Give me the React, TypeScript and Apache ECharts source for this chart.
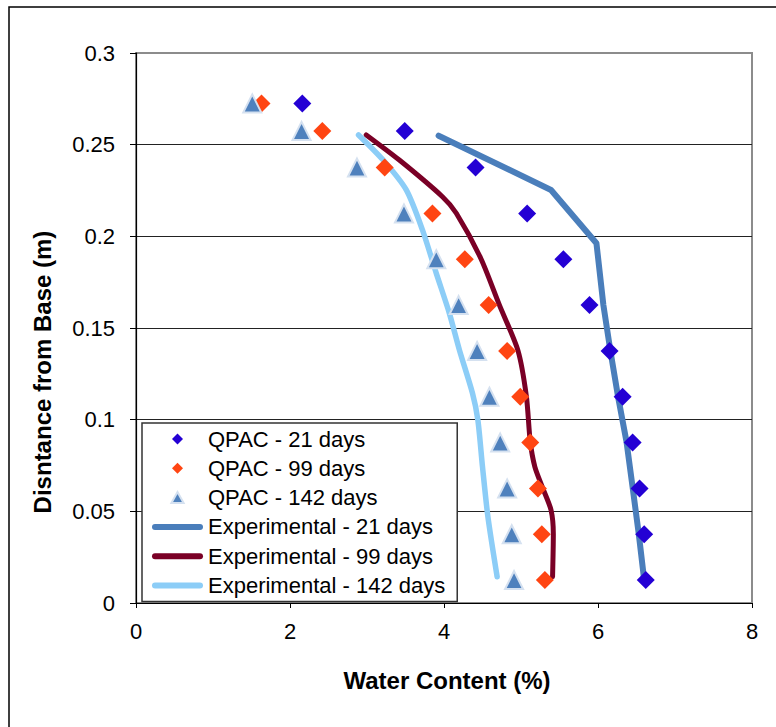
import React, { useEffect, useRef } from "react";
import * as echarts from "echarts";

// Depths (m) of the QPAC model points
const qpacDepths = [0.2725, 0.2575, 0.2375, 0.2125, 0.1875, 0.1625, 0.1375, 0.1125, 0.0875, 0.0625, 0.0375, 0.0125];
// QPAC water content (%) at each depth
const qpac21 = [2.16, 3.49, 4.41, 5.08, 5.55, 5.89, 6.15, 6.32, 6.45, 6.54, 6.6, 6.62];
const qpac99 = [1.63, 2.42, 3.23, 3.85, 4.27, 4.58, 4.82, 4.99, 5.12, 5.22, 5.27, 5.31];
const qpac142 = [1.51, 2.15, 2.87, 3.48, 3.9, 4.19, 4.43, 4.59, 4.73, 4.82, 4.88, 4.91];

// Experimental profiles: water content (%) and depth (m)
const exp21Water = [3.93, 5.39, 5.98, 6.07, 6.16, 6.26, 6.37, 6.45, 6.53, 6.6];
const exp21Depth = [0.2549, 0.2253, 0.1962, 0.1625, 0.1378, 0.1127, 0.088, 0.0629, 0.0375, 0.0125];
const exp99Water = [2.99, 3.42, 3.98, 4.16, 4.48, 4.72, 4.96, 5.07, 5.12, 5.18, 5.28, 5.39, 5.42, 5.41];
const exp99Depth = [0.2553, 0.2416, 0.2216, 0.2126, 0.1878, 0.1625, 0.1378, 0.1127, 0.088, 0.0743, 0.0629, 0.0507, 0.0375, 0.0143];
const exp142Water = [2.89, 3.21, 3.51, 3.72, 3.9, 4.07, 4.2, 4.37, 4.44, 4.5, 4.57, 4.69];
const exp142Depth = [0.2553, 0.2416, 0.2253, 0.2035, 0.1798, 0.158, 0.138, 0.1144, 0.0998, 0.0743, 0.0471, 0.0143];

const seriesNames = [
  "QPAC - 21 days",
  "QPAC - 99 days",
  "QPAC - 142 days",
  "Experimental - 21 days",
  "Experimental - 99 days",
  "Experimental - 142 days",
];

const xTitle = "Water Content (%)";
const yTitle = "Disntance from Base (m)";

const FONT = "'Liberation Sans', Arial, Helvetica, sans-serif";

// Legend glyphs (paths keep their aspect inside the legend item box)
const DIAMOND_ICON = "path://M0,-1L1,0L0,1L-1,0Z";
const TRIANGLE_ICON = "path://M0,-1L1,0.8L-1,0.8Z";
const LINE_ICON = "path://M3,0L48,0A3,3,0,0,1,48,6L3,6A3,3,0,0,1,3,0Z";

const pairs = (xs: number[], ys: number[]) => xs.map((x, i) => [x, ys[i]]);

export default function App() {
  const ref = useRef<HTMLDivElement>(null);

  useEffect(() => {
    if (!ref.current) return;
    const chart = echarts.init(ref.current, undefined, { renderer: "svg" });

    const scatter = (name: string, xs: number[], symbol: string, color: string, extra: any = {}) => ({
      name,
      type: "scatter",
      data: pairs(xs, qpacDepths),
      symbol,
      symbolSize: 18,
      itemStyle: { color, opacity: 1, ...extra },
      z: 4,
    });

    const line = (name: string, xs: number[], ys: number[], color: string, width: number, smooth: number | boolean) => ({
      name,
      type: "line",
      data: pairs(xs, ys),
      showSymbol: false,
      symbol: "none",
      smooth,
      lineStyle: { color, width, cap: "round", join: "round" },
      itemStyle: { color },
      z: 3,
    });

    chart.setOption({
      animation: false,
      backgroundColor: "#ffffff",
      textStyle: { fontFamily: FONT },
      grid: {
        left: 136,
        top: 53,
        width: 616,
        height: 550,
        show: true,
        borderColor: "#8c8c8c",
        borderWidth: 2,
        backgroundColor: "transparent",
        containLabel: false,
      },
      xAxis: {
        type: "value",
        min: 0,
        max: 8,
        interval: 2,
        axisLine: { show: true, onZero: false, lineStyle: { color: "#000", width: 1.2 } },
        axisTick: { show: true, inside: false, length: 5, lineStyle: { color: "#000" } },
        axisLabel: { fontSize: 22, color: "#000", margin: 17, fontFamily: FONT },
        splitLine: { show: false },
      },
      yAxis: {
        type: "value",
        min: 0,
        max: 0.3,
        interval: 0.05,
        axisLine: { show: true, onZero: false, lineStyle: { color: "#000", width: 1.2 } },
        axisTick: { show: true, inside: false, length: 6, lineStyle: { color: "#000" } },
        axisLabel: {
          fontSize: 22,
          color: "#000",
          margin: 21,
          fontFamily: FONT,
          formatter: (v: number) => String(+v.toFixed(2)),
        },
        splitLine: {
          show: true,
          lineStyle: {
            color: ["#000", "#222", "#222", "#222", "#222", "#222", "#8c8c8c"],
            width: 1.2,
          },
        },
      },
      legend: {
        orient: "vertical",
        left: 142,
        top: 423,
        data: [
          { name: seriesNames[0], icon: DIAMOND_ICON },
          { name: seriesNames[1], icon: DIAMOND_ICON },
          { name: seriesNames[2], icon: TRIANGLE_ICON },
          { name: seriesNames[3], icon: LINE_ICON },
          { name: seriesNames[4], icon: LINE_ICON },
          { name: seriesNames[5], icon: LINE_ICON },
        ],
        backgroundColor: "#ffffff",
        borderColor: "#333",
        borderWidth: 1.5,
        borderRadius: 0,
        padding: [5, 12, 5, 10],
        itemWidth: 51,
        itemHeight: 11,
        itemGap: 7.3,
        symbolKeepAspect: true,
        textStyle: { fontSize: 22, color: "#000", fontFamily: FONT, lineHeight: 22 },
        z: 10,
      },
      graphic: [
        {
          type: "rect",
          silent: true,
          shape: { x: 9, y: 7, width: 900, height: 900 },
          style: { fill: "none", stroke: "#000", lineWidth: 1.5 },
          z: 100,
        },
        {
          type: "text",
          x: 447,
          y: 680,
          style: {
            text: xTitle,
            font: `bold 24px ${FONT}`,
            fill: "#000",
            textAlign: "center",
            textVerticalAlign: "middle",
          },
        },
        {
          type: "text",
          x: 42,
          y: 372,
          rotation: Math.PI / 2,
          style: {
            text: yTitle,
            font: `bold 24px ${FONT}`,
            fill: "#000",
            textAlign: "center",
            textVerticalAlign: "middle",
          },
        },
      ],
      series: [
        scatter(seriesNames[0], qpac21, "diamond", "#2400d4"),
        scatter(seriesNames[1], qpac99, "diamond", "#ff4512"),
        scatter(seriesNames[2], qpac142, "triangle", "#4f81bd", {
          borderColor: "#d5e1f0",
          borderWidth: 2,
        }),
        line(seriesNames[3], exp21Water, exp21Depth, "#4a7ebb", 6, false),
        line(seriesNames[4], exp99Water, exp99Depth, "#7a0026", 5, 0.25),
        line(seriesNames[5], exp142Water, exp142Depth, "#8ccdf7", 5.5, 0.25),
      ],
    });

    return () => chart.dispose();
  }, []);

  return (
    <div
      ref={ref}
      style={{ position: "absolute", left: 0, top: 0, width: 776, height: 727, background: "#fff" }}
    />
  );
}
